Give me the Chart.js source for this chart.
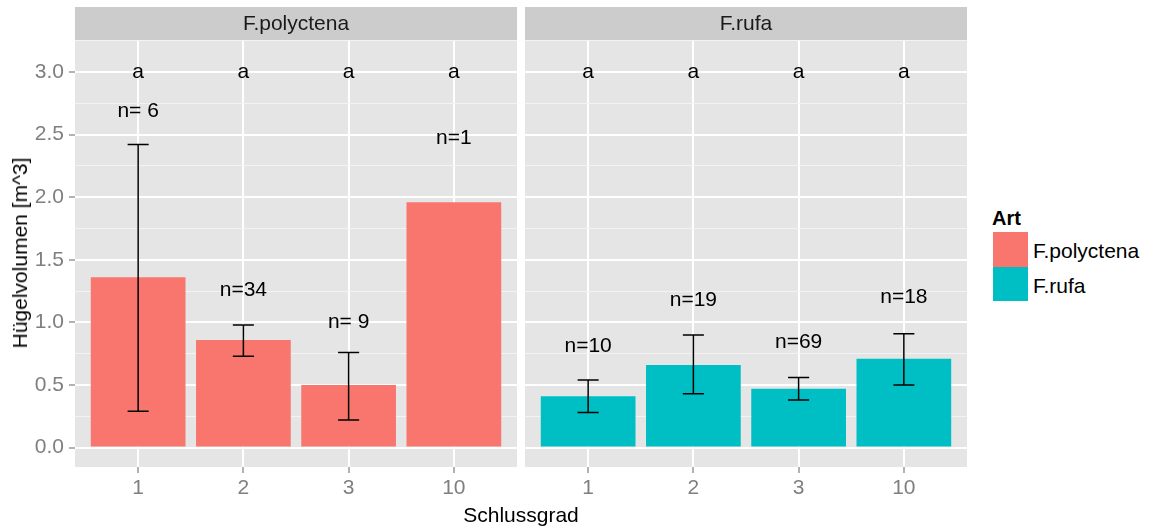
<!DOCTYPE html>
<html>
<head>
<meta charset="utf-8">
<script src="https://cdn.jsdelivr.net/npm/chart.js@4.4.0/dist/chart.umd.min.js"></script>
<style>
  html, body { margin: 0; padding: 0; background: #FFFFFF; }
  #wrap { position: relative; width: 1152px; height: 531px; overflow: hidden; font-family: 'Liberation Sans', Arial, sans-serif; }
  .cv { position: absolute; top: 0; }
  .txt { position: absolute; white-space: nowrap; color: #000; }
</style>
</head>
<body>
<div id="wrap">
  <canvas id="c1" class="cv" width="520" height="531" style="left:0px"></canvas>
  <canvas id="c2" class="cv" width="520" height="531" style="left:450px"></canvas>
  <div class="txt" id="ytitle" style="left:20px; top:253px; font-size:21px; transform: translate(-50%,-50%) rotate(-90deg);">Hügelvolumen [m^3]</div>
  <div class="txt" id="xtitle" style="left:521px; top:515px; font-size:21px; transform: translate(-50%,-50%);">Schlussgrad</div>
  <div class="txt" style="left:992px; top:218px; font-size:20px; font-weight:bold; transform: translateY(-50%);">Art</div>
  <div style="position:absolute; left:993px; top:232px; width:35px; height:35px; background:#F8766D;"></div>
  <div style="position:absolute; left:993px; top:267px; width:35px; height:34px; background:#00BFC4;"></div>
  <div class="txt" style="left:1033px; top:251px; font-size:21px; transform: translateY(-50%);">F.polyctena</div>
  <div class="txt" style="left:1033px; top:286px; font-size:21px; transform: translateY(-50%);">F.rufa</div>
</div>
<script>
// ---------------- data ----------------
const categories = ['1', '2', '3', '10'];
const panels = ['F.polyctena', 'F.rufa'];

const polyctenaMean = [1.36, 0.86, 0.50, 1.96];
const polyctenaLow  = [0.29, 0.73, 0.22, null];
const polyctenaHigh = [2.42, 0.98, 0.76, null];
const polyctenaN    = ['n= 6', 'n=34', 'n= 9', 'n=1'];
const polyctenaNY   = [2.69, 1.26, 1.00, 2.47];

const rufaMean = [0.41, 0.66, 0.47, 0.71];
const rufaLow  = [0.28, 0.43, 0.38, 0.50];
const rufaHigh = [0.54, 0.90, 0.56, 0.91];
const rufaN    = ['n=10', 'n=19', 'n=69', 'n=18'];
const rufaNY   = [0.81, 1.18, 0.84, 1.20];

const letters = ['a', 'a', 'a', 'a'];
const letterY = 3.0;

const yTickValues = [0, 0.25, 0.5, 0.75, 1.0, 1.25, 1.5, 1.75, 2.0, 2.25, 2.5, 2.75, 3.0, 3.25];
const yMin = -0.155, yMax = 3.255;

const colors = ['#F8766D', '#00BFC4'];
// ---------------------------------------

const FONT = "'Liberation Sans', Arial, sans-serif";
const isMajor = v => Math.abs(v * 2 - Math.round(v * 2)) < 1e-6;

function makePlugin(title, low, high, nLabels, nY) {
  return {
    id: 'panelDeco',
    beforeDraw(chart) {
      const { ctx, chartArea: a } = chart;
      ctx.save();
      ctx.fillStyle = '#E5E5E5';
      ctx.fillRect(a.left, a.top, a.right - a.left, a.bottom - a.top);
      ctx.fillStyle = '#CCCCCC';
      ctx.fillRect(a.left, 7, a.right - a.left, a.top - 7);
      ctx.fillStyle = '#1A1A1A';
      ctx.font = '21px ' + FONT;
      ctx.textAlign = 'center';
      ctx.textBaseline = 'middle';
      ctx.fillText(title, (a.left + a.right) / 2, (7 + a.top) / 2 + 1);
      ctx.restore();
    },
    afterDatasetsDraw(chart) {
      const { ctx } = chart;
      const xs = chart.scales.x, ys = chart.scales.y;
      ctx.save();
      ctx.strokeStyle = '#000000';
      ctx.lineWidth = 1.5;
      for (let i = 0; i < categories.length; i++) {
        if (low[i] == null || high[i] == null) continue;
        const x = xs.getPixelForValue(i);
        const hw = xs.getPixelForValue(i + 0.1) - x;
        const y1 = ys.getPixelForValue(low[i]);
        const y2 = ys.getPixelForValue(high[i]);
        ctx.beginPath();
        ctx.moveTo(x, y1); ctx.lineTo(x, y2);
        ctx.moveTo(x - hw, y1); ctx.lineTo(x + hw, y1);
        ctx.moveTo(x - hw, y2); ctx.lineTo(x + hw, y2);
        ctx.stroke();
      }
      ctx.fillStyle = '#000000';
      ctx.font = '21px ' + FONT;
      ctx.textAlign = 'center';
      ctx.textBaseline = 'middle';
      for (let i = 0; i < categories.length; i++) {
        const x = xs.getPixelForValue(i);
        ctx.fillText(letters[i], x, ys.getPixelForValue(letterY));
        ctx.fillText(nLabels[i], x, ys.getPixelForValue(nY[i]));
      }
      ctx.restore();
    }
  };
}

function makeChart(id, title, mean, low, high, nLabels, nY, color, showY) {
  return new Chart(document.getElementById(id), {
    type: 'bar',
    data: {
      datasets: [{
        data: mean.map((v, i) => ({ x: i, y: v })),
        backgroundColor: color,
        borderWidth: 0,
        barPercentage: 0.9,
        categoryPercentage: 1.0
      }]
    },
    options: {
      responsive: false,
      animation: false,
      devicePixelRatio: 1,
      layout: { padding: { top: 40, right: 3, left: 0, bottom: 0 } },
      plugins: { legend: { display: false }, tooltip: { enabled: false } },
      scales: {
        x: {
          type: 'linear',
          offset: false,
          min: -0.6, max: 3.6,
          afterBuildTicks: s => { s.ticks = categories.map((c, i) => ({ value: i })); },
          afterFit: s => { s.height = 64; },
          ticks: {
            autoSkip: false,
            maxRotation: 0,
            padding: 3,
            color: '#7F7F7F',
            font: { family: FONT, size: 21 },
            callback: v => categories[Math.round(v)]
          },
          grid: {
            offset: false,
            color: '#FFFFFF',
            lineWidth: 2,
            tickLength: 6,
            tickWidth: 1.2,
            tickColor: '#7F7F7F'
          },
          border: { display: false }
        },
        y: {
          min: yMin, max: yMax,
          afterBuildTicks: s => { s.ticks = yTickValues.map(v => ({ value: v })); },
          afterFit: s => { s.width = 75; },
          ticks: {
            display: showY,
            autoSkip: false,
            padding: 5,
            color: '#7F7F7F',
            font: { family: FONT, size: 21 },
            callback: v => isMajor(v) ? v.toFixed(1) : ''
          },
          grid: {
            color: c => (c.tick && isMajor(c.tick.value)) ? '#FFFFFF' : '#F3F3F3',
            lineWidth: c => (c.tick && isMajor(c.tick.value)) ? 2 : 1,
            tickLength: 6,
            tickWidth: 1.2,
            drawTicks: showY,
            tickColor: c => (showY && c.tick && isMajor(c.tick.value)) ? '#7F7F7F' : 'rgba(0,0,0,0)'
          },
          border: { display: false }
        }
      }
    },
    plugins: [makePlugin(title, low, high, nLabels, nY)]
  });
}

makeChart('c1', panels[0], polyctenaMean, polyctenaLow, polyctenaHigh, polyctenaN, polyctenaNY, colors[0], true);
makeChart('c2', panels[1], rufaMean, rufaLow, rufaHigh, rufaN, rufaNY, colors[1], false);
</script>
</body>
</html>
